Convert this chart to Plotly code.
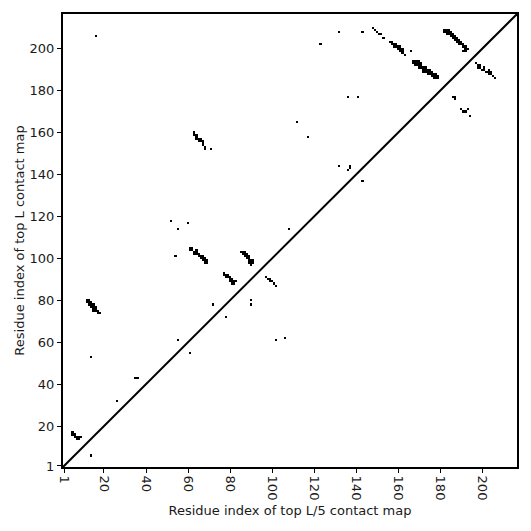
import plotly.graph_objects as go

L = 216

# contact pairs (residue i on x axis, residue j on y axis)
contact_x = [
    5, 5, 6, 6, 7, 7, 8, 8, 9,
    14, 16, 26, 35, 36,
    12, 13, 12, 13, 14, 13, 14, 15, 15, 16, 15, 16, 17, 18,
    14, 15, 16, 17,
    14, 52, 55, 54, 60,
    61, 62, 61, 62, 63, 64, 63, 64, 65, 66, 66, 67, 67, 68, 68, 69,
    64, 65, 67, 68, 69,
    63, 63, 64, 65, 65, 66, 66, 67, 67, 68, 68, 71,
    64, 64, 67,
    55, 61, 72, 78,
    77, 77, 78, 78, 79, 80, 80, 81, 81, 82, 82, 83,
    79, 80, 81,
    85, 86, 86, 87, 87, 88, 88, 89, 89, 89, 90, 90, 91,
    87, 88, 89, 90, 91,
    90, 90,
    97, 98, 99, 99, 100, 101, 102,
    102, 106, 108, 112, 117, 123,
    132, 132, 136, 136, 137, 137, 141, 143, 143,
    148, 149, 150, 151, 152, 153,
    156, 157, 158, 159, 160, 161, 162, 162, 163, 166,
    157, 158, 159, 160, 161, 161, 162,
    167, 168, 169, 167, 168, 169, 170, 169, 170, 171, 170, 171, 172, 173,
    172, 173, 174, 175, 174, 175, 176, 176, 177, 178, 178, 179, 177,
    168, 170, 171, 172, 173, 174, 175, 176, 177, 178, 179,
    182, 183, 184, 182, 183, 184, 185, 183, 184, 185, 186, 185, 186, 187,
    186, 187, 188, 187, 188, 189, 188, 189, 190, 189, 190, 191, 191, 192,
    192, 193, 191, 192,
    197, 198, 198, 199, 200, 201, 202, 203, 203, 204, 205, 206,
    199, 201, 203, 204,
    186, 187, 187,
    190, 191, 192, 193, 194,
]
contact_y = [
    17, 16, 16, 15, 15, 14, 15, 14, 15,
    6, 206, 32, 43, 43,
    80, 80, 79, 79, 78, 78, 77, 77, 76, 76, 75, 75, 74, 74,
    79, 78, 77, 75,
    53, 118, 114, 101, 117,
    105, 105, 104, 104, 103, 103, 102, 102, 101, 101, 100, 100, 99, 99, 98, 98,
    104, 102, 101, 100, 99,
    160, 159, 158, 157, 156, 157, 156, 155, 154, 153, 152, 152,
    159, 157, 156,
    61, 55, 78, 72,
    93, 92, 92, 91, 91, 90, 89, 89, 88, 88, 89, 89,
    92, 91, 90,
    103, 103, 102, 103, 101, 101, 100, 100, 99, 98, 98, 97, 98,
    102, 102, 101, 99, 99,
    80, 78,
    91, 90, 90, 89, 89, 88, 87,
    61, 62, 114, 165, 158, 202,
    208, 144, 177, 142, 144, 143, 177, 137, 208,
    210, 209, 208, 207, 207, 205,
    203, 202, 201, 201, 200, 200, 199, 198, 197, 199,
    203, 202, 202, 201, 201, 199, 200,
    194, 194, 194, 193, 193, 193, 193, 192, 192, 192, 191, 191, 190, 190,
    189, 189, 189, 189, 188, 188, 188, 187, 187, 187, 186, 186, 186,
    192, 194, 193, 191, 191, 190, 190, 189, 188, 188, 187,
    209, 209, 209, 208, 208, 208, 208, 207, 207, 207, 207, 206, 206, 206,
    205, 205, 205, 204, 204, 204, 203, 203, 203, 202, 202, 202, 201, 201,
    200, 200, 199, 199,
    193, 192, 191, 191, 190, 190, 189, 189, 188, 188, 187, 186,
    192, 191, 190, 189,
    177, 177, 176,
    171, 170, 170, 171, 168,
]

tick_vals = [1, 20, 40, 60, 80, 100, 120, 140, 160, 180, 200]
tick_text = [str(v) for v in tick_vals]

# contact matrix built from the pair lists
residues = list(range(1, L + 1))
z = [[None] * L for _ in range(L)]
for i, j in zip(contact_x, contact_y):
    z[j - 1][i - 1] = 1

fig = go.Figure()
fig.add_trace(go.Heatmap(
    x=residues, y=residues, z=z,
    colorscale=[[0, "black"], [1, "black"]],
    showscale=False, hoverinfo="skip",
))
fig.add_trace(go.Scatter(
    x=[0.5, L + 0.5], y=[0.5, L + 0.5], mode="lines",
    line=dict(color="black", width=2), showlegend=False, hoverinfo="skip",
))

font = dict(family="DejaVu Sans", size=13, color="#1a1a1a")
axis_common = dict(
    showgrid=False, zeroline=False, showline=True, linecolor="black",
    linewidth=2, mirror=True, ticks="outside", ticklen=4, tickwidth=1,
    tickcolor="black", tickvals=tick_vals, ticktext=tick_text,
    range=[0.5, L + 0.5], tickfont=font,
)
fig.update_layout(
    width=531, height=531,
    margin=dict(l=63, r=14, t=14, b=64),
    paper_bgcolor="white", plot_bgcolor="white",
    font=font,
    showlegend=False,
    xaxis=dict(**axis_common, tickangle=90,
               title=dict(text="Residue index of top L/5 contact map",
                          font=font, standoff=6)),
    yaxis=dict(**axis_common,
               title=dict(text="Residue index of top L contact map",
                          font=font, standoff=2)),
)
fig.write_html("out.html", config={"displayModeBar": False},
               post_script="document.body.style.margin='0';document.body.style.padding='0';")
